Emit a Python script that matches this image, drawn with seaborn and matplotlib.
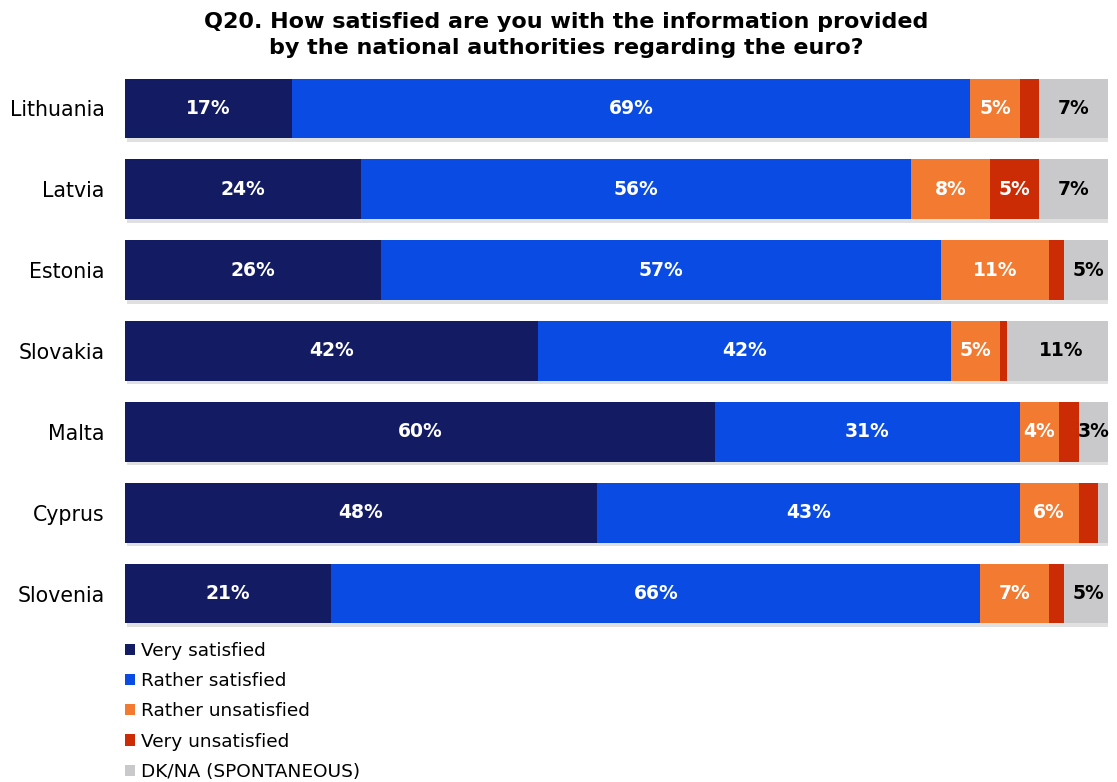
import matplotlib
matplotlib.use("Agg")
import matplotlib.pyplot as plt
import matplotlib.patheffects as pe
from matplotlib.patches import Patch
import pandas as pd
import seaborn as sns

countries = ["Lithuania", "Latvia", "Estonia", "Slovakia", "Malta", "Cyprus", "Slovenia"]
very_satisfied = [17, 24, 26, 42, 60, 48, 21]
rather_satisfied = [69, 56, 57, 42, 31, 43, 66]
rather_unsatisfied = [5, 8, 11, 5, 4, 6, 7]
very_unsatisfied = [2, 5, 1.5, 0.7, 2, 2, 1.5]
dk_na = [7, 7, 5, 11, 3, 2, 5]
# which segments carry a printed value
show_label = {
    "Very satisfied": [True] * 7,
    "Rather satisfied": [True] * 7,
    "Rather unsatisfied": [True] * 7,
    "Very unsatisfied": [False, True, False, False, False, False, False],
    "DK/NA (SPONTANEOUS)": [True, True, True, True, True, False, True],
}

series = {
    "Very satisfied": very_satisfied,
    "Rather satisfied": rather_satisfied,
    "Rather unsatisfied": rather_unsatisfied,
    "Very unsatisfied": very_unsatisfied,
    "DK/NA (SPONTANEOUS)": dk_na,
}
colors = {
    "Very satisfied": "#131c63",
    "Rather satisfied": "#0a4be4",
    "Rather unsatisfied": "#f37a31",
    "Very unsatisfied": "#cb2b05",
    "DK/NA (SPONTANEOUS)": "#c9c9cb",
}
label_colors = {
    "Very satisfied": "white",
    "Rather satisfied": "white",
    "Rather unsatisfied": "white",
    "Very unsatisfied": "white",
    "DK/NA (SPONTANEOUS)": "black",
}

df = pd.DataFrame(series, index=countries)
cum = df.cumsum(axis=1)
starts = cum - df

sns.set_style("white")
plt.rcParams["font.family"] = ["DejaVu Sans"]
plt.rcParams["text.color"] = "black"
plt.rcParams["ytick.color"] = "black"

fig = plt.figure(figsize=(11.17, 7.82), dpi=100)
ax = fig.add_axes([125 / 1117, 1 - 634 / 782, (1108 - 125) / 1117, (634 - 68) / 782])

names = list(series.keys())
# draw cumulative layers from the full bar down to the first segment
for i, name in enumerate(reversed(names)):
    d = pd.DataFrame({"country": countries, "value": cum[name].values})
    n_before = len(ax.patches)
    sns.barplot(data=d, x="value", y="country", order=countries, orient="h",
                color=colors[name], saturation=1, width=0.74, ax=ax,
                linewidth=0, edgecolor="none")
    if i == 0:
        for p in ax.patches[n_before:]:
            p.set_path_effects([
                pe.SimplePatchShadow(offset=(1.5, -2.5), shadow_rgbFace="#a8a8a8", alpha=0.35),
                pe.Normal(),
            ])

for name in names:
    for j, c in enumerate(countries):
        if not show_label[name][j]:
            continue
        v = df.loc[c, name]
        x = starts.loc[c, name] + v / 2
        ax.text(x, j, f"{v:.0f}%", ha="center", va="center", fontsize=13.5,
                fontweight="bold", color=label_colors[name])

ax.set_xlim(0, 100)
ax.set_ylim(len(countries) - 0.5, -0.5)
ax.set_xlabel("")
ax.set_ylabel("")
ax.set_xticks([])
ax.tick_params(axis="y", length=0, pad=14.5, labelsize=14.8, labelcolor="black")
for s in ax.spines.values():
    s.set_visible(False)

fig.text(566 / 1117, 1 - 35 / 782,
         "Q20. How satisfied are you with the information provided\nby the national authorities regarding the euro?",
         ha="center", va="center", fontsize=16, fontweight="bold", linespacing=1.38,
         color="black")

handles = [Patch(facecolor=colors[n], edgecolor="none", label=n) for n in names]
leg = fig.legend(handles=handles, loc="upper left", bbox_to_anchor=(125 / 1117, 1 - 642 / 782),
                 frameon=False, fontsize=13.3, handlelength=0.56, handleheight=0.56,
                 handletextpad=0.32, labelspacing=0.66, borderaxespad=0, borderpad=0)
for t in leg.get_texts():
    t.set_color("black")

fig.savefig("out.png", dpi=100)
